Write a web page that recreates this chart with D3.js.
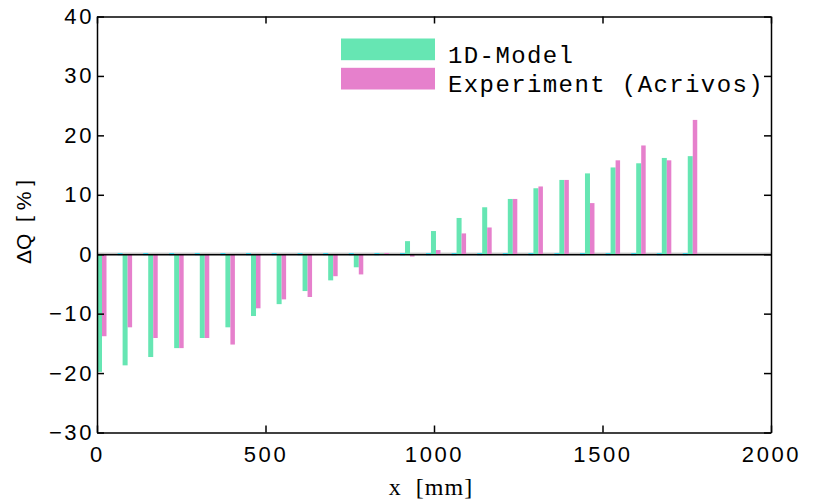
<!DOCTYPE html>
<html>
<head>
<meta charset="utf-8">
<script src="https://cdn.jsdelivr.net/npm/d3@7"></script>
<style>
    body { margin: 0; background: #fff; }
    text { fill: #000; white-space: pre; }
    .axis path, .axis line { stroke: #000; stroke-width: 1.5; }
    .axis text { font-family: "Liberation Sans", Arial, sans-serif; font-size: 22px; letter-spacing: 2.6px; }
    .legend text { font-family: "Liberation Mono", "Courier New", monospace; }
</style>
</head>
<body>
<svg id="chart" width="813" height="500"></svg>
<script>
    // positions along the channel (mm)
    let positions = [0, 76, 152, 229, 305, 381, 457, 533, 610, 686, 762, 838,
                     914, 991, 1067, 1143, 1219, 1295, 1372, 1448, 1524, 1600, 1676, 1753];
    let model = [-19.8, -18.7, -17.3, -15.8, -14.1, -12.3, -10.4, -8.4, -6.2, -4.4, -2.2, 0.1,
                 2.2, 3.9, 6.1, 7.9, 9.3, 11.1, 12.5, 13.6, 14.6, 15.3, 16.2, 16.5];
    let experiment = [-13.8, -12.3, -14.1, -15.8, -14.1, -15.2, -9.1, -7.6, -7.2, -3.7, -3.4, 0.2,
                      -0.4, 0.7, 3.5, 4.5, 9.3, 11.4, 12.5, 8.6, 15.8, 18.3, 15.8, 22.6];
    let xTicks = [0, 500, 1000, 1500, 2000];
    let yTicks = [-30, -20, -10, 0, 10, 20, 30, 40];
    let seriesNames = ["1D-Model", "Experiment (Acrivos)"];
    let colors = ["#66e6b3", "#e680cc"];

    let svg = d3.select("#chart");
    let mLeft = 97, mRight = 771, mTop = 16.5, mBottom = 432.5;

    let x = d3.scaleLinear().domain([0, 2000]).range([mLeft, mRight]);
    let y = d3.scaleLinear().domain([-30, 40]).range([mBottom, mTop]);

    let greenW = 5, pinkW = 4.5;

    // baseline shading + cyan stubs (matlab leftovers)
    svg.append("line")
        .attr("x1", mLeft).attr("x2", mRight)
        .attr("y1", y(0) - 1).attr("y2", y(0) - 1)
        .attr("stroke", "#aaa").attr("stroke-width", 1);

    let plot = svg.append("g");

    plot.selectAll("rect.green")
        .data(model)
        .enter().append("rect")
        .attr("class", "green")
        .attr("x", (d, i) => x(positions[i]))
        .attr("width", greenW)
        .attr("y", d => y(Math.max(0, d)))
        .attr("height", d => Math.abs(y(d) - y(0)))
        .attr("fill", colors[0]);

    plot.selectAll("rect.pink")
        .data(experiment)
        .enter().append("rect")
        .attr("class", "pink")
        .attr("x", (d, i) => x(positions[i]) + greenW)
        .attr("width", pinkW)
        .attr("y", d => y(Math.max(0, d)))
        .attr("height", d => Math.abs(y(d) - y(0)))
        .attr("fill", colors[1]);

    svg.append("line")
        .attr("x1", mLeft).attr("x2", mRight)
        .attr("y1", y(0) + 0.5).attr("y2", y(0) + 0.5)
        .attr("stroke", "#000").attr("stroke-width", 1.5);

    plot.selectAll("rect.cyan")
        .data(positions.slice(1))
        .enter().append("rect")
        .attr("x", d => x(d) - 5)
        .attr("width", 5)
        .attr("y", y(0) - 1)
        .attr("height", 2)
        .attr("fill", "#22ddf5");

    // axes, ticks pointing inward
    svg.append("g").attr("class", "axis")
        .attr("transform", `translate(0,${mBottom})`)
        .call(d3.axisBottom(x).tickValues(xTicks).tickSize(-7).tickPadding(14).tickSizeOuter(0)
              .tickFormat(d3.format("d")));
    svg.append("g").attr("class", "axis")
        .attr("transform", `translate(0,${mTop})`)
        .call(d3.axisTop(x).tickValues(xTicks).tickSize(-7).tickSizeOuter(0).tickFormat(""));
    svg.append("g").attr("class", "axis")
        .attr("transform", `translate(${mLeft},0)`)
        .call(d3.axisLeft(y).tickValues(yTicks).tickSize(-7).tickPadding(3).tickSizeOuter(0)
              .tickFormat(d => d < 0 ? "\u2212" + Math.abs(d) : d));
    svg.append("g").attr("class", "axis")
        .attr("transform", `translate(${mRight},0)`)
        .call(d3.axisRight(y).tickValues(yTicks).tickSize(-7).tickSizeOuter(0).tickFormat(""));

    svg.selectAll(".axis text").attr("fill", "#000");

    // axis titles
    svg.append("text")
        .attr("x", 431).attr("y", 495)
        .attr("text-anchor", "middle")
        .style("font-family", "'Liberation Serif', 'Times New Roman', serif")
        .style("font-size", "24px").style("letter-spacing", "1px")
        .text("x  [mm]");
    svg.append("text")
        .attr("transform", "translate(31,222) rotate(-90)")
        .attr("text-anchor", "middle")
        .style("font-family", "'Liberation Sans', Arial, sans-serif")
        .style("font-size", "21px")
        .text("\u0394Q  [ % ]");

    // legend
    let legend = svg.append("g").attr("class", "legend");
    seriesNames.forEach((name, i) => {
        legend.append("rect")
            .attr("x", 341).attr("y", 38.5 + i * 29.3)
            .attr("width", 94).attr("height", 21.7)
            .attr("fill", colors[i]);
        legend.append("text")
            .attr("x", 448).attr("y", 63 + i * 28.5)
            .style("font-size", "24px").style("letter-spacing", "1.4px")
            .text(name);
    });
</script>
</body>
</html>
